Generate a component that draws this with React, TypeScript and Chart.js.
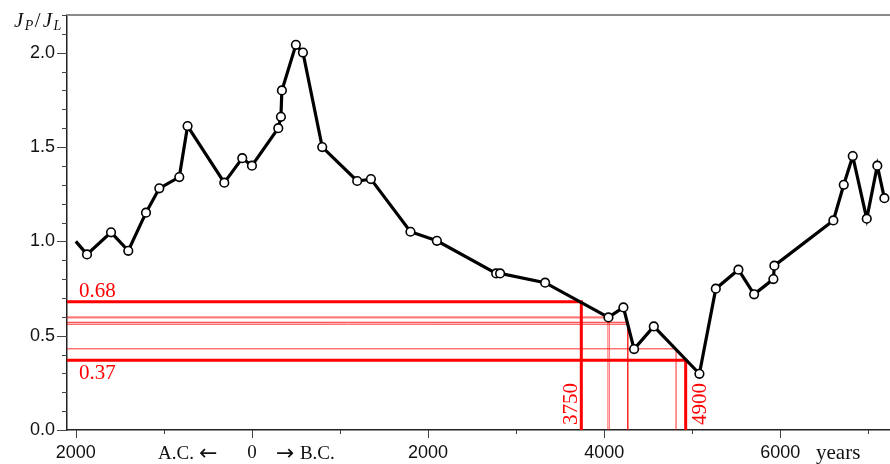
import { useEffect, useRef } from 'react';
import { Chart, registerables } from 'chart.js';

Chart.register(...registerables);

// Years: positive = B.C., negative = A.C.
const years = [
  -2000, -1873, -1600, -1404, -1203, -1052, -825, -731, -314, -110, 0,
  299, 329, 340, 499, 579, 798, 1195, 1351, 1800, 2100, 2773, 2818, 3329,
  4048, 4218, 4339, 4563, 5081, 5267, 5524, 5702, 5921, 5932, 6602, 6720,
  6822, 6981, 7101, 7181,
];
const ratio = [
  1.0, 0.931, 1.048, 0.95, 1.152, 1.281, 1.341, 1.611, 1.311, 1.441, 1.401,
  1.6, 1.66, 1.8, 2.042, 2.001, 1.5, 1.32, 1.33, 1.051, 1.003, 0.83, 0.83, 0.781,
  0.597, 0.65, 0.429, 0.549, 0.298, 0.749, 0.85, 0.719, 0.8, 0.871, 1.111, 1.3,
  1.452, 1.12, 1.401, 1.229,
];

const xTickValues = [-2000, -1000, 0, 1000, 2000, 3000, 4000, 5000, 6000, 7000];
const xLabelTicks = [-2000, 0, 2000, 4000, 6000];
const xLabelTexts = ['2000', '0', '2000', '4000', '6000'];
const eraLeft = 'A.C.';
const eraRight = 'B.C.';

// Reference read-off lines (year, value)
const refYears = [3740, 4925, 4041, 4059, 4268, 4268, 4816];
const refValues = [0.68, 0.37, 0.6, 0.594, 0.571, 0.561, 0.431];
const valueLabels = ['0.68', '0.37'];
const yearLabels = ['3750', '4900'];

const refStyles = [
  { color: '#ff0000', width: 3 },
  { color: '#ff0000', width: 3 },
  { color: 'rgba(255,0,0,0.5)', width: 1.2 },
  { color: 'rgba(255,0,0,0.5)', width: 1.2 },
  { color: 'rgba(255,0,0,0.85)', width: 1 },
  { color: 'rgba(255,0,0,0.85)', width: 1 },
  { color: 'rgba(255,0,0,0.55)', width: 1.5 },
];

const decorPlugin = {
  id: 'decor',
  beforeDatasetsDraw(chart: any) {
    const { ctx, chartArea, scales } = chart;
    const x = scales.x, y = scales.y;
    ctx.save();
    refYears.forEach((yr, i) => {
      const px = x.getPixelForValue(yr);
      const py = y.getPixelForValue(refValues[i]);
      ctx.beginPath();
      ctx.moveTo(chartArea.left, py);
      ctx.lineTo(px, py);
      ctx.lineTo(px, chartArea.bottom);
      ctx.strokeStyle = refStyles[i].color;
      ctx.lineWidth = refStyles[i].width;
      ctx.lineJoin = 'miter';
      ctx.stroke();
    });
    ctx.restore();
  },
  afterDraw(chart: any) {
    const { ctx, chartArea, scales } = chart;
    const x = scales.x, y = scales.y;
    ctx.save();
    // top frame line
    ctx.strokeStyle = '#8a8a8a';
    ctx.lineWidth = 2;
    ctx.beginPath();
    ctx.moveTo(chartArea.left - 1, chartArea.top);
    ctx.lineTo(chartArea.right, chartArea.top);
    ctx.stroke();

    // tick marks
    ctx.strokeStyle = '#444';
    ctx.lineWidth = 1;
    x.ticks.forEach((t: any) => {
      const px = Math.round(x.getPixelForValue(t.value)) + 0.5;
      const len = t.value % 2000 === 0 ? 8 : 4;
      ctx.beginPath();
      ctx.moveTo(px, chartArea.bottom);
      ctx.lineTo(px, chartArea.bottom + len);
      ctx.stroke();
    });
    y.ticks.forEach((t: any) => {
      const py = Math.round(y.getPixelForValue(t.value)) + 0.5;
      const major = Math.abs(t.value * 2 - Math.round(t.value * 2)) < 1e-6;
      const len = major ? 10 : 5;
      ctx.beginPath();
      ctx.moveTo(chartArea.left, py);
      ctx.lineTo(chartArea.left - len, py);
      ctx.stroke();
    });

    // era annotation around the 0 tick
    const p0 = x.getPixelForValue(0);
    ctx.fillStyle = '#111';
    ctx.textBaseline = 'alphabetic';
    ctx.font = '19px "Liberation Serif", serif';
    ctx.textAlign = 'right';
    ctx.fillText(eraLeft, p0 - 58, 459);
    ctx.textAlign = 'left';
    ctx.fillText(eraRight, p0 + 48, 459);
    ctx.font = '22px "DejaVu Sans", sans-serif';
    ctx.fillText('\u2190', p0 - 53, 460);
    ctx.fillText('\u2192', p0 + 24, 460);

    // red labels
    ctx.fillStyle = '#ff0000';
    ctx.font = '21px "Liberation Serif", serif';
    ctx.textAlign = 'left';
    const py0 = y.getPixelForValue(refValues[0]);
    const py1 = y.getPixelForValue(refValues[1]);
    ctx.textBaseline = 'alphabetic';
    ctx.fillText(valueLabels[0], chartArea.left + 12, py0 - 5);
    ctx.textBaseline = 'top';
    ctx.fillText(valueLabels[1], chartArea.left + 12, py1 + 3);
    ctx.textBaseline = 'alphabetic';
    const px0 = x.getPixelForValue(refYears[0]);
    const px1 = x.getPixelForValue(refYears[1]);
    ctx.save();
    ctx.translate(px0 - 4, chartArea.bottom - 5);
    ctx.rotate(-Math.PI / 2);
    ctx.fillText(yearLabels[0], 0, 0);
    ctx.restore();
    ctx.save();
    ctx.translate(px1 + 20, chartArea.bottom - 5);
    ctx.rotate(-Math.PI / 2);
    ctx.fillText(yearLabels[1], 0, 0);
    ctx.restore();

    // "years"
    ctx.fillStyle = '#111';
    ctx.font = '21px "Liberation Serif", serif';
    ctx.fillText('years', 816, 459);

    // Y title J_P / J_L
    let cx = 14;
    const base = 27;
    const parts: [string, string, number][] = [
      ['J', 'italic 21px "Liberation Serif", serif', base],
      ['P', 'italic 14px "Liberation Serif", serif', base + 3],
      ['/', '21px "Liberation Serif", serif', base],
      ['J', 'italic 21px "Liberation Serif", serif', base],
      ['L', 'italic 14px "Liberation Serif", serif', base + 3],
    ];
    parts.forEach(([s, f, b]) => {
      ctx.font = f;
      ctx.fillText(s, cx, b);
      cx += ctx.measureText(s).width + (s === '/' ? 2 : 1.5);
    });
    ctx.restore();
  },
};

export default function App() {
  const ref = useRef<HTMLCanvasElement | null>(null);
  useEffect(() => {
    if (!ref.current) return;
    const data = years.map((yr, i) => ({ x: yr, y: ratio[i] }));
    const chart = new Chart(ref.current, {
      type: 'line',
      data: {
        datasets: [
          {
            data,
            borderColor: '#000',
            borderWidth: 3.2,
            pointRadius: years.map((_, i) => (i === 0 ? 0 : 4.3)),
            pointHoverRadius: 4.3,
            pointBackgroundColor: '#fff',
            pointBorderColor: '#000',
            pointBorderWidth: 1.6,
            tension: 0,
            fill: false,
          },
        ],
      },
      options: {
        animation: false,
        responsive: false,
        events: [],
        layout: { autoPadding: false, padding: { top: 15, left: 0, right: 0, bottom: 0 } },
        plugins: { legend: { display: false }, tooltip: { enabled: false } },
        scales: {
          x: {
            type: 'linear',
            min: -2100,
            max: 7245,
            afterBuildTicks: (scale: any) => {
              scale.ticks = xTickValues.map((v) => ({ value: v }));
            },
            afterFit: (scale: any) => {
              scale.height = 34;
            },
            grid: { drawOnChartArea: false, tickLength: 8, tickColor: 'transparent' },
            border: { display: true, color: '#222', width: 1.5 },
            ticks: {
              padding: 4,
              maxRotation: 0,
              autoSkip: false,
              color: '#111',
              font: (c: any) =>
                c.tick && c.tick.value === 0
                  ? { family: '"Liberation Serif", serif', size: 19 }
                  : { family: '"Liberation Sans", sans-serif', size: 18 },
              callback: (v: any) => {
                const idx = xLabelTicks.indexOf(Number(v));
                return idx >= 0 ? xLabelTexts[idx] : '';
              },
            },
          },
          y: {
            type: 'linear',
            min: 0,
            max: 2.2,
            afterFit: (scale: any) => {
              scale.width = 67;
            },
            grid: { drawOnChartArea: false, tickLength: 10, tickColor: 'transparent' },
            border: { display: true, color: '#222', width: 1.5 },
            ticks: {
              stepSize: 0.1,
              padding: 2,
              autoSkip: false,
              color: '#111',
              font: { family: '"Liberation Sans", sans-serif', size: 18 },
              callback: (v: any) => {
                const n = Number(v);
                return Math.abs(n * 2 - Math.round(n * 2)) < 1e-6 ? n.toFixed(1) : '';
              },
            },
          },
        },
      },
      plugins: [decorPlugin],
    });
    return () => chart.destroy();
  }, []);
  return (
    <div style={{ position: 'absolute', left: 0, top: 0, width: 890, height: 464 }}>
      <canvas ref={ref} width={890} height={464} style={{ display: 'block' }} />
    </div>
  );
}
